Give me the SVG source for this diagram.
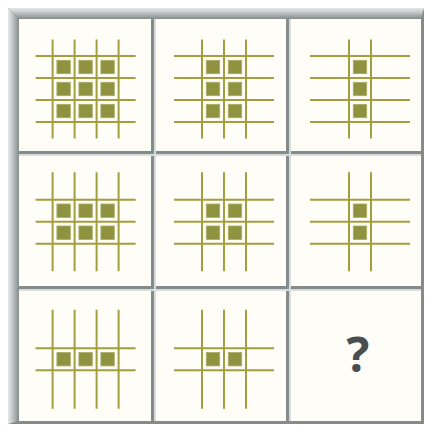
<svg xmlns="http://www.w3.org/2000/svg" width="428" height="429" viewBox="0 0 428 429">
<defs>
<linearGradient id="gl" x1="0" y1="0" x2="1" y2="0"><stop offset="0" stop-color="#e6e9e9"/><stop offset="0.35" stop-color="#c9cdcd"/><stop offset="1" stop-color="#858a8b"/></linearGradient>
<linearGradient id="gt" x1="0" y1="0" x2="0" y2="1"><stop offset="0" stop-color="#e6e9e9"/><stop offset="0.35" stop-color="#c9cdcd"/><stop offset="1" stop-color="#858a8b"/></linearGradient>
<style>
.cell{fill:#fefdf7}
.ln{stroke:#a39e3e;stroke-width:2;fill:none}
.sq{fill:#8f9340;stroke:#aaab64;stroke-width:0.8}
.hl{fill:#d9dcdc}
.q{font-family:"Open Sans","DejaVu Sans",sans-serif;font-weight:bold;font-size:48px;fill:#4a4e50;text-anchor:middle}
</style>
</defs>
<rect x="0" y="0" width="428" height="429" fill="#ffffff"/>
<g id="frame">
<rect x="8" y="8" width="416" height="416" fill="#858a8b"/>
<polygon points="8,8 19,19 19,421 8,424" fill="url(#gl)"/>
<polygon points="8,8 424,8 421,19 19,19" fill="url(#gt)"/>
<rect class="hl" x="154" y="19" width="2" height="402"/>
<rect class="hl" x="289" y="19" width="2" height="402"/>
<rect class="hl" x="19" y="154" width="402" height="2"/>
<rect class="hl" x="19" y="289" width="402" height="2"/>
</g>
<g id="cell1">
<rect class="cell" x="19" y="19" width="132" height="132"/>
<path class="ln" d="M52.6 39.5V138.5M74.6 39.5V138.5M96.6 39.5V138.5M118.6 39.5V138.5M35.6 56H135.6M35.6 78H135.6M35.6 100H135.6M35.6 122H135.6"/>
<rect class="sq" x="56.9" y="60.3" width="13.4" height="13.4"/><rect class="sq" x="78.9" y="60.3" width="13.4" height="13.4"/><rect class="sq" x="100.9" y="60.3" width="13.4" height="13.4"/>
<rect class="sq" x="56.9" y="82.3" width="13.4" height="13.4"/><rect class="sq" x="78.9" y="82.3" width="13.4" height="13.4"/><rect class="sq" x="100.9" y="82.3" width="13.4" height="13.4"/>
<rect class="sq" x="56.9" y="104.3" width="13.4" height="13.4"/><rect class="sq" x="78.9" y="104.3" width="13.4" height="13.4"/><rect class="sq" x="100.9" y="104.3" width="13.4" height="13.4"/>
</g>
<g id="cell2">
<rect class="cell" x="156" y="19" width="130" height="132"/>
<path class="ln" d="M202 39.5V138.5M224 39.5V138.5M246 39.5V138.5M174 56H274M174 78H274M174 100H274M174 122H274"/>
<rect class="sq" x="206.3" y="60.3" width="13.4" height="13.4"/><rect class="sq" x="228.3" y="60.3" width="13.4" height="13.4"/>
<rect class="sq" x="206.3" y="82.3" width="13.4" height="13.4"/><rect class="sq" x="228.3" y="82.3" width="13.4" height="13.4"/>
<rect class="sq" x="206.3" y="104.3" width="13.4" height="13.4"/><rect class="sq" x="228.3" y="104.3" width="13.4" height="13.4"/>
</g>
<g id="cell3">
<rect class="cell" x="291" y="19" width="130" height="132"/>
<path class="ln" d="M349 39.5V138.5M371 39.5V138.5M310 56H410M310 78H410M310 100H410M310 122H410"/>
<rect class="sq" x="353.3" y="60.3" width="13.4" height="13.4"/>
<rect class="sq" x="353.3" y="82.3" width="13.4" height="13.4"/>
<rect class="sq" x="353.3" y="104.3" width="13.4" height="13.4"/>
</g>
<g id="cell4">
<rect class="cell" x="19" y="156" width="132" height="130"/>
<path class="ln" d="M52.6 172.2V271.2M74.6 172.2V271.2M96.6 172.2V271.2M118.6 172.2V271.2M35.6 199.7H135.6M35.6 221.7H135.6M35.6 243.7H135.6"/>
<rect class="sq" x="56.9" y="204" width="13.4" height="13.4"/><rect class="sq" x="78.9" y="204" width="13.4" height="13.4"/><rect class="sq" x="100.9" y="204" width="13.4" height="13.4"/>
<rect class="sq" x="56.9" y="226" width="13.4" height="13.4"/><rect class="sq" x="78.9" y="226" width="13.4" height="13.4"/><rect class="sq" x="100.9" y="226" width="13.4" height="13.4"/>
</g>
<g id="cell5">
<rect class="cell" x="156" y="156" width="130" height="130"/>
<path class="ln" d="M202 172.2V271.2M224 172.2V271.2M246 172.2V271.2M174 199.7H274M174 221.7H274M174 243.7H274"/>
<rect class="sq" x="206.3" y="204" width="13.4" height="13.4"/><rect class="sq" x="228.3" y="204" width="13.4" height="13.4"/>
<rect class="sq" x="206.3" y="226" width="13.4" height="13.4"/><rect class="sq" x="228.3" y="226" width="13.4" height="13.4"/>
</g>
<g id="cell6">
<rect class="cell" x="291" y="156" width="130" height="130"/>
<path class="ln" d="M349 172.2V271.2M371 172.2V271.2M310 199.7H410M310 221.7H410M310 243.7H410"/>
<rect class="sq" x="353.3" y="204" width="13.4" height="13.4"/>
<rect class="sq" x="353.3" y="226" width="13.4" height="13.4"/>
</g>
<g id="cell7">
<rect class="cell" x="19" y="291" width="132" height="130"/>
<path class="ln" d="M52.6 309.7V408.7M74.6 309.7V408.7M96.6 309.7V408.7M118.6 309.7V408.7M35.6 348.2H135.6M35.6 370.2H135.6"/>
<rect class="sq" x="56.9" y="352.5" width="13.4" height="13.4"/><rect class="sq" x="78.9" y="352.5" width="13.4" height="13.4"/><rect class="sq" x="100.9" y="352.5" width="13.4" height="13.4"/>
</g>
<g id="cell8">
<rect class="cell" x="156" y="291" width="130" height="130"/>
<path class="ln" d="M202 309.7V408.7M224 309.7V408.7M246 309.7V408.7M174 348.2H274M174 370.2H274"/>
<rect class="sq" x="206.3" y="352.5" width="13.4" height="13.4"/><rect class="sq" x="228.3" y="352.5" width="13.4" height="13.4"/>
</g>
<g id="cell9">
<rect class="cell" x="291" y="291" width="130" height="130"/>
<text class="q" x="358" y="371.5">?</text>
</g>
</svg>
